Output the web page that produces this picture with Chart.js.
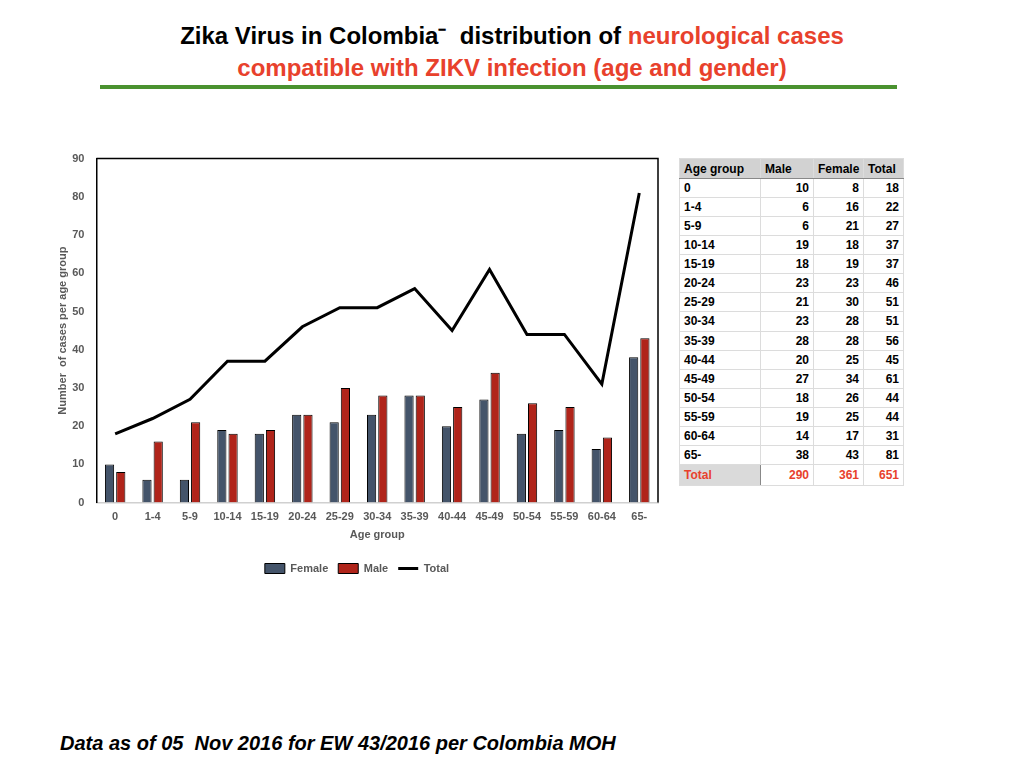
<!DOCTYPE html>
<html>
<head>
<meta charset="utf-8">
<script src="https://cdn.jsdelivr.net/npm/chart.js@4.4.0/dist/chart.umd.min.js"></script>
<style>
  body { margin: 0; width: 1024px; height: 768px; background: #fff; position: relative; font-family: "Liberation Sans", Arial, sans-serif; overflow: hidden; }
  .title { position: absolute; left: 0; width: 1024px; top: 20px; text-align: center; font-weight: bold; font-size: 24px; line-height: 32px; color: #000; }
  .title .red { color: #e8412c; }
  .rule { position: absolute; left: 100px; top: 85px; width: 797px; height: 4px; background: #4a922f; }
  #wrap { position: absolute; left: 56px; top: 140px; width: 614px; height: 444px; }
  table { position: absolute; left: 679px; top: 158px; border-collapse: collapse; table-layout: fixed; width: 224px; font-size: 12px; font-weight: bold; color: #000; }
  td, th { border: 1px solid #dcdcdc; height: 19.07px; padding: 0 4px; box-sizing: border-box; overflow: hidden; white-space: nowrap; }
  th { background: #d2d2d2; text-align: left; border-bottom: 1px solid #888; height: 20px; }
  td.n { text-align: right; }
  tr.tot td { color: #e8412c; height: 21px; }
  tr.tot td.g { background: #dadada; border-right: 1px solid #888; }
  .foot { position: absolute; left: 60px; top: 732px; font-size: 20px; font-weight: bold; font-style: italic; color: #000; }
</style>
</head>
<body>
<div class="title">Zika Virus in Colombia⁻ &nbsp;distribution of <span class="red">neurological cases</span><br><span class="red">compatible with ZIKV infection (age and gender)</span></div>
<div class="rule"></div>
<div id="wrap"><canvas id="zika"></canvas></div>
<table id="tbl"></table>
<div class="foot">Data as of 05 &nbsp;Nov 2016 for EW 43/2016 per Colombia MOH</div>
<script>
const ageGroups = ['0', '1-4', '5-9', '10-14', '15-19', '20-24', '25-29', '30-34', '35-39', '40-44', '45-49', '50-54', '55-59', '60-64', '65-'];
// chart series as drawn (dark bar labelled Female, red bar labelled Male)
const femaleBars = [10, 6, 6, 19, 18, 23, 21, 23, 28, 20, 27, 18, 19, 14, 38];
const maleBars = [8, 16, 21, 18, 19, 23, 30, 28, 28, 25, 34, 26, 25, 17, 43];
const totals = [18, 22, 27, 37, 37, 46, 51, 51, 56, 45, 61, 44, 44, 31, 81];
// table columns
const tableMale = [10, 6, 6, 19, 18, 23, 21, 23, 28, 20, 27, 18, 19, 14, 38];
const tableFemale = [8, 16, 21, 18, 19, 23, 30, 28, 28, 25, 34, 26, 25, 17, 43];
const yTicks = [0, 10, 20, 30, 40, 50, 60, 70, 80, 90];

// table
let rows = '<colgroup><col style="width:81px"><col style="width:53px"><col style="width:50px"><col style="width:40px"></colgroup>';
rows += '<tr><th>Age group</th><th>Male</th><th>Female</th><th>Total</th></tr>';
ageGroups.forEach(function (g, i) {
    rows += '<tr><td>' + g + '</td><td class="n">' + tableMale[i] + '</td><td class="n">' + tableFemale[i] + '</td><td class="n">' + totals[i] + '</td></tr>';
});
const sum = a => a.reduce((s, v) => s + v, 0);
rows += '<tr class="tot"><td class="g">Total</td><td class="n">' + sum(tableMale) + '</td><td class="n">' + sum(tableFemale) + '</td><td class="n">' + sum(totals) + '</td></tr>';
document.getElementById('tbl').innerHTML = rows;

const frame = {
    id: 'frame',
    afterDraw(chart) {
        const a = chart.chartArea, c = chart.ctx;
        c.save();
        c.strokeStyle = '#000';
        c.lineWidth = 1.5;
        c.beginPath();
        c.moveTo(a.left, a.top);
        c.lineTo(a.right, a.top);
        c.lineTo(a.right, a.bottom);
        c.stroke();
        c.restore();
    }
};

const tickFont = { family: 'Liberation Sans', size: 11, weight: 'bold' };
const ctx = document.getElementById('zika').getContext('2d');
const zikaChart = new Chart(ctx, {
    type: 'bar',
    data: {
        labels: ageGroups,
        datasets: [{
            type: 'line',
            label: 'Total',
            data: totals,
            borderColor: '#000',
            backgroundColor: '#000',
            borderWidth: 3,
            pointRadius: 0,
            tension: 0,
            order: 0,
            pointStyle: 'line'
        }, {
            label: 'Female',
            data: femaleBars,
            backgroundColor: '#44546a',
            borderColor: '#000',
            borderWidth: 1,
            order: 1,
            pointStyle: 'rect'
        }, {
            label: 'Male',
            data: maleBars,
            backgroundColor: '#b0241a',
            borderColor: '#000',
            borderWidth: 1,
            order: 1,
            pointStyle: 'rect'
        }]
    },
    options: {
        responsive: true,
        maintainAspectRatio: false,
        animation: false,
        datasets: {
            bar: { categoryPercentage: 0.6, barPercentage: 0.82 }
        },
        layout: { padding: { top: 10, right: 12 } },
        scales: {
            x: {
                ticks: { color: '#595959', font: tickFont, padding: 8, maxRotation: 0, autoSkip: false },
                grid: { display: false, drawTicks: false },
                border: { color: '#d0d0d0', width: 1.5 },
                title: { display: true, text: 'Age group', color: '#595959', font: tickFont, padding: { top: -3, bottom: 11 } }
            },
            y: {
                min: 0,
                max: 90,
                afterBuildTicks: function (axis) { axis.ticks = yTicks.map(v => ({ value: v })); },
                ticks: { color: '#595959', font: tickFont, padding: 12 },
                grid: { display: false, drawTicks: false },
                border: { color: '#000', width: 1.5 },
                title: { display: true, text: 'Number  of cases per age group', color: '#595959', font: tickFont, padding: { top: 0, bottom: -9 } }
            }
        },
        plugins: {
            legend: {
                position: 'bottom',
                labels: {
                    usePointStyle: true,
                    pointStyleWidth: 20,
                    boxHeight: 10,
                    padding: 10,
                    color: '#595959',
                    font: tickFont,
                    sort: (a, b) => a.datasetIndex === 0 ? 1 : (b.datasetIndex === 0 ? -1 : a.datasetIndex - b.datasetIndex)
                }
            },
            tooltip: { enabled: false }
        }
    },
    plugins: [frame]
});
</script>
</body>
</html>
